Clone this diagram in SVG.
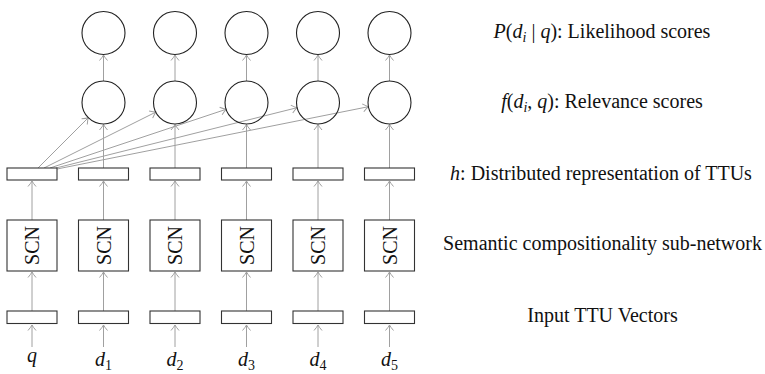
<svg xmlns="http://www.w3.org/2000/svg" width="765" height="374" viewBox="0 0 765 374">
<style>
  .box { fill: #fff; stroke: #333; stroke-width: 1.1; }
  .circ { fill: none; stroke: #222; stroke-width: 1.1; }
  .conn { fill: none; stroke: #a0a0a0; stroke-width: 1; marker-end: url(#arr); }
  text { font-family: "Liberation Serif", "Times New Roman", serif; fill: #111; font-size: 20px; }
  .it { font-style: italic; }
  .lbl { text-anchor: middle; }
</style>
<defs>
  <marker id="arr" markerUnits="userSpaceOnUse" markerWidth="12" markerHeight="12" refX="0" refY="0" viewBox="-8 -6 10 12" orient="auto">
    <path d="M -5.5 -4 Q -2 -1 0 0 Q -2 1 -5.5 4" fill="none" stroke="#a0a0a0" stroke-width="1"/>
  </marker>
</defs>

<g id="connectors">
  <path class="conn" d="M32 347 V325"/>
  <path class="conn" d="M103.5 347 V325"/>
  <path class="conn" d="M175 347 V325"/>
  <path class="conn" d="M246.5 347 V325"/>
  <path class="conn" d="M318 347 V325"/>
  <path class="conn" d="M389.5 347 V325"/>
  <path class="conn" d="M32 311 V272"/>
  <path class="conn" d="M103.5 311 V272"/>
  <path class="conn" d="M175 311 V272"/>
  <path class="conn" d="M246.5 311 V272"/>
  <path class="conn" d="M318 311 V272"/>
  <path class="conn" d="M389.5 311 V272"/>
  <path class="conn" d="M32 220 V181"/>
  <path class="conn" d="M103.5 220 V181"/>
  <path class="conn" d="M175 220 V181"/>
  <path class="conn" d="M246.5 220 V181"/>
  <path class="conn" d="M318 220 V181"/>
  <path class="conn" d="M389.5 220 V181"/>
  <path class="conn" d="M103.5 168 V124.5"/>
  <path class="conn" d="M175 168 V124.5"/>
  <path class="conn" d="M246.5 168 V124.5"/>
  <path class="conn" d="M318 168 V124.5"/>
  <path class="conn" d="M389.5 168 V124.5"/>
  <path class="conn" d="M103.5 81 V55"/>
  <path class="conn" d="M175 81 V55"/>
  <path class="conn" d="M246.5 81 V55"/>
  <path class="conn" d="M318 81 V55"/>
  <path class="conn" d="M389.5 81 V55"/>
  <path class="conn" d="M38 168 L88.3 117.7"/>
  <path class="conn" d="M44 168 L155.8 112.1"/>
  <path class="conn" d="M50 168 L226.1 109.3"/>
  <path class="conn" d="M56 168 L297.1 107.7"/>
  <path class="conn" d="M57 169 L368.4 106.7"/>
</g>

<g id="likelihood">
  <circle class="circ" cx="103.5" cy="33" r="21.5"/>
  <circle class="circ" cx="175" cy="33" r="21.5"/>
  <circle class="circ" cx="246.5" cy="33" r="21.5"/>
  <circle class="circ" cx="318" cy="33" r="21.5"/>
  <circle class="circ" cx="389.5" cy="33" r="21.5"/>
</g>
<g id="relevance">
  <circle class="circ" cx="103.5" cy="102.5" r="21.5"/>
  <circle class="circ" cx="175" cy="102.5" r="21.5"/>
  <circle class="circ" cx="246.5" cy="102.5" r="21.5"/>
  <circle class="circ" cx="318" cy="102.5" r="21.5"/>
  <circle class="circ" cx="389.5" cy="102.5" r="21.5"/>
</g>
<g id="h-vectors">
  <rect class="box" x="7" y="168" width="50" height="12"/>
  <rect class="box" x="78.5" y="168" width="50" height="12"/>
  <rect class="box" x="150" y="168" width="50" height="12"/>
  <rect class="box" x="221.5" y="168" width="50" height="12"/>
  <rect class="box" x="293" y="168" width="50" height="12"/>
  <rect class="box" x="364.5" y="168" width="50" height="12"/>
</g>
<g id="scn">
  <rect class="box" x="7" y="220" width="50" height="51"/>
  <rect class="box" x="78.5" y="220" width="50" height="51"/>
  <rect class="box" x="150" y="220" width="50" height="51"/>
  <rect class="box" x="221.5" y="220" width="50" height="51"/>
  <rect class="box" x="293" y="220" width="50" height="51"/>
  <rect class="box" x="364.5" y="220" width="50" height="51"/>
  <text class="lbl" transform="translate(39 245.5) rotate(-90)">SCN</text>
  <text class="lbl" transform="translate(110.5 245.5) rotate(-90)">SCN</text>
  <text class="lbl" transform="translate(182 245.5) rotate(-90)">SCN</text>
  <text class="lbl" transform="translate(253.5 245.5) rotate(-90)">SCN</text>
  <text class="lbl" transform="translate(325 245.5) rotate(-90)">SCN</text>
  <text class="lbl" transform="translate(396.5 245.5) rotate(-90)">SCN</text>
</g>
<g id="inputs">
  <rect class="box" x="7" y="311" width="50" height="12.5"/>
  <rect class="box" x="78.5" y="311" width="50" height="12.5"/>
  <rect class="box" x="150" y="311" width="50" height="12.5"/>
  <rect class="box" x="221.5" y="311" width="50" height="12.5"/>
  <rect class="box" x="293" y="311" width="50" height="12.5"/>
  <rect class="box" x="364.5" y="311" width="50" height="12.5"/>
</g>
<g id="input-labels">
  <text class="lbl it" x="32" y="362">q</text>
  <text class="lbl" x="103.5" y="366"><tspan class="it">d</tspan><tspan font-size="14" dy="3.5">1</tspan></text>
  <text class="lbl" x="175" y="366"><tspan class="it">d</tspan><tspan font-size="14" dy="3.5">2</tspan></text>
  <text class="lbl" x="246.5" y="366"><tspan class="it">d</tspan><tspan font-size="14" dy="3.5">3</tspan></text>
  <text class="lbl" x="318" y="366"><tspan class="it">d</tspan><tspan font-size="14" dy="3.5">4</tspan></text>
  <text class="lbl" x="389.5" y="366"><tspan class="it">d</tspan><tspan font-size="14" dy="3.5">5</tspan></text>
</g>
<g id="legend">
  <text class="lbl" x="602" y="38"><tspan class="it">P</tspan>(<tspan class="it">d</tspan><tspan class="it" font-size="14" dy="4">i</tspan><tspan dy="-4"> | </tspan><tspan class="it">q</tspan>): Likelihood scores</text>
  <text class="lbl" x="602" y="108"><tspan class="it">f</tspan>(<tspan class="it">d</tspan><tspan class="it" font-size="14" dy="4">i</tspan><tspan dy="-4">, </tspan><tspan class="it">q</tspan>): Relevance scores</text>
  <text class="lbl" x="601" y="180"><tspan class="it">h</tspan>: Distributed representation of TTUs</text>
  <text class="lbl" x="602.5" y="250">Semantic compositionality sub-network</text>
  <text class="lbl" x="602.5" y="322">Input TTU Vectors</text>
</g>
</svg>
